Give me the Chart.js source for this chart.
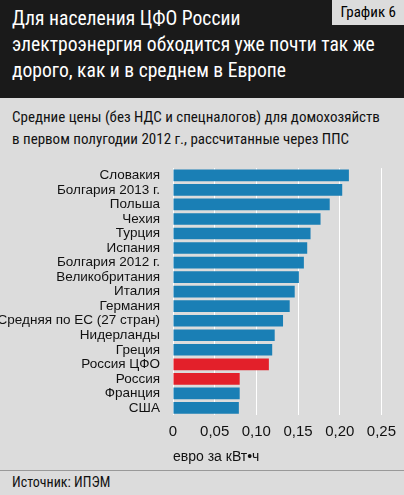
<!DOCTYPE html>
<html><head><meta charset="utf-8">
<script src="https://cdn.jsdelivr.net/npm/chart.js@4"></script>
<style>
body{margin:0;width:404px;height:495px;background:#dcdcdc;font-family:"Liberation Sans Narrow","Roboto Condensed","Liberation Sans",sans-serif;overflow:hidden;position:relative}
#head{background:#1a1a1a;color:#fff;height:98px;position:relative}
#title{position:absolute;left:12px;top:6px;font-size:19.6px;line-height:26px}
#tag{position:absolute;right:0;top:0;background:#dcdcdc;color:#000;font-size:15px;padding:3px 8px 4px 8px}
#sub{position:absolute;left:12px;top:106px;font-size:15px;line-height:22px;color:#111}
#box{position:absolute;left:0;top:155px;width:404px;height:320px}
#src{position:absolute;left:12px;top:474px;font-size:14px;color:#111}
#line{position:absolute;left:0;top:470px;width:404px;border-top:1px solid #999}
</style></head><body>
<div id="head"><div id="title">Для населения ЦФО России<br>электроэнергия обходится уже почти так же<br>дорого, как и в среднем в Европе</div><div id="tag">График 6</div></div>
<div id="sub">Средние цены (без НДС и спецналогов) для домохозяйств<br>в первом полугодии 2012 г., рассчитанные через ППС</div>
<div id="box"><canvas id="c" width="404" height="315"></canvas></div>
<div id="line"></div>
<div id="src">Источник: ИПЭМ</div>
<script>
const categories = ["Словакия","Болгария 2013 г.","Польша","Чехия","Турция","Испания","Болгария 2012 г.","Великобритания","Италия","Германия","Средняя по ЕС (27 стран)","Нидерланды","Греция","Россия ЦФО","Россия","Франция","США"];
const prices = [0.211,0.203,0.188,0.177,0.165,0.161,0.157,0.151,0.146,0.140,0.132,0.122,0.119,0.115,0.080,0.080,0.079];
const barColors = categories.map(c => c.startsWith("Россия") ? "#e3202a" : "#1a7fb5");

Chart.defaults.font.family = '"Liberation Sans Narrow","Liberation Sans",sans-serif';
Chart.defaults.color = "#111";
new Chart(document.getElementById('c').getContext('2d'), {
  type: 'bar',
  data: { labels: categories, datasets: [{ data: prices, backgroundColor: barColors, categoryPercentage: 0.8, barPercentage: 1 }] },
  options: {
    indexAxis: 'y', responsive: false, animation: false,
    layout: { padding: { left: 0, right: 16, top: 10, bottom: 0 } },
    plugins: { legend: { display: false }, tooltip: { enabled: false } },
    scales: {
      x: { min: 0, max: 0.25, border: { display: false },
        grid: { color: "#ffffff", lineWidth: 1, drawTicks: false },
        ticks: { stepSize: 0.05, padding: 8, font: { size: 15 }, callback: v => v === 0 ? "0" : v.toFixed(2).replace('.', ',') },
        title: { display: true, text: "евро за кВт•ч", font: { size: 14 }, align: 'start', padding: { top: 0 } } },
      y: { border: { display: false }, grid: { display: false },
        ticks: { font: { size: 13.5 }, padding: 5, autoSkip: false }, afterFit: s => { s.width = 173; } }
    }
  }
});
</script>
</body></html>
